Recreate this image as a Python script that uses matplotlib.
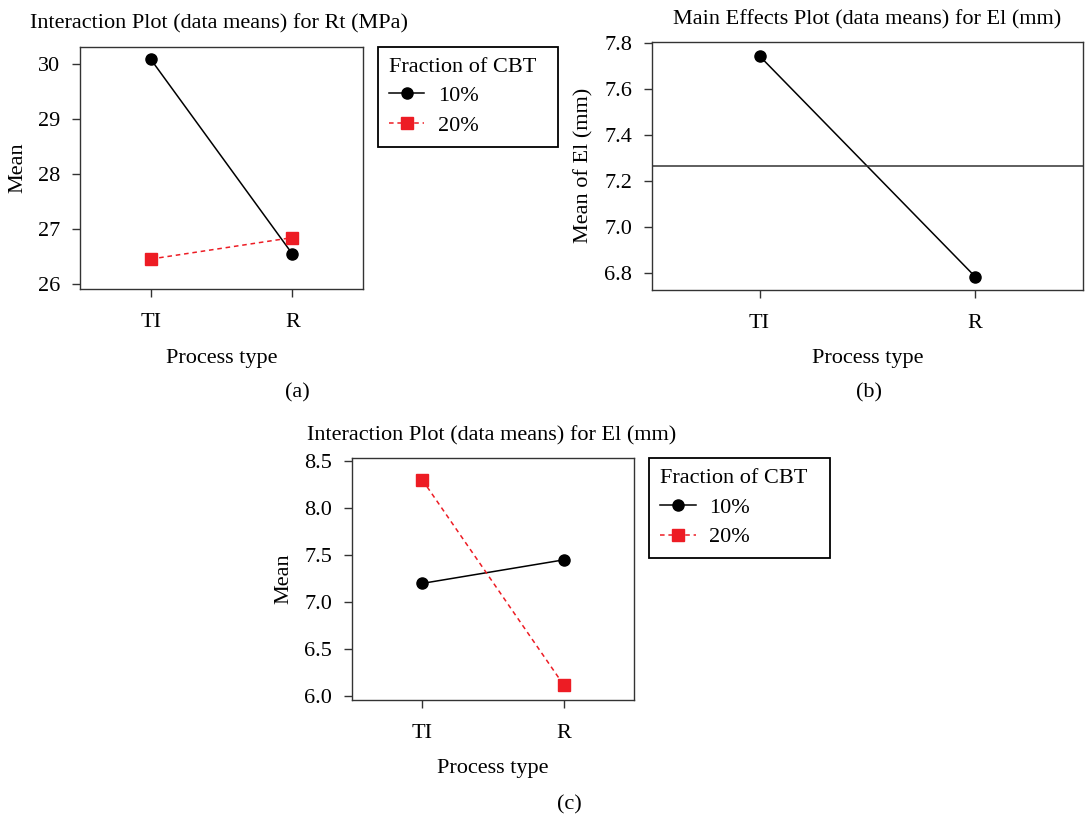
import matplotlib
matplotlib.use("Agg")
import matplotlib.pyplot as plt
import numpy as np

plt.rcParams["font.family"] = ["Liberation Serif", "DejaVu Serif"]
plt.rcParams["font.size"] = 16

# data
process_types = ["TI", "R"]
fractions = ["10%", "20%"]
rt_10 = [30.08, 26.54]
rt_20 = [26.45, 26.84]
el_main = [7.745, 6.785]
el_10 = [7.20, 7.45]
el_20 = [8.30, 6.12]

RED = "#ED1C24"
SPINE = "#333333"

W, H = 1087, 816
fig = plt.figure(figsize=(W / 100, H / 100), dpi=100)


def px_axes(left, top, right, bottom):
    # axes box given in pixel edges of the image
    return fig.add_axes([left / W, 1 - bottom / H, (right - left) / W, (bottom - top) / H])


def style_axes(ax):
    for s in ax.spines.values():
        s.set_color(SPINE)
        s.set_linewidth(1.0)
    ax.tick_params(direction="out", length=6, width=1, color=SPINE, labelsize=16)
    ax.tick_params(axis="x", pad=11)
    ax.tick_params(axis="y", pad=8)
    ax.set_xticks(np.arange(len(process_types)))
    ax.set_xticklabels(process_types)
    ax.set_xlim(-0.5, 1.5)
    ax.set_xlabel("Process type", labelpad=12)


def interaction(ax, y10, y20):
    x = np.arange(len(process_types))
    ax.plot(x, y10, color="black", lw=1.1, marker="o", ms=8, label=fractions[0])
    ax.plot(x, y20, color=RED, lw=1.1, ls=(0, (3, 2.5)), marker="s", ms=9,
            label=fractions[1])
    style_axes(ax)
    ax.set_ylabel("Mean", labelpad=8)


def add_legend(ax, left, top):
    leg = ax.legend(title="Fraction of CBT  ", loc="upper left",
                    bbox_to_anchor=(left / W, 1 - top / H), bbox_transform=fig.transFigure,
                    borderaxespad=0, fontsize=16, title_fontsize=16, alignment="left",
                    fancybox=False, framealpha=1, edgecolor="black",
                    handlelength=1.6, handletextpad=0.6, labelspacing=0.4,
                    borderpad=0.5)
    leg.get_frame().set_linewidth(1.3)


# (a) interaction plot for Rt
ax_a = px_axes(80, 46.7, 363.3, 289.3)
interaction(ax_a, rt_10, rt_20)
ax_a.set_ylim(25.90, 30.31)
ax_a.set_yticks([26, 27, 28, 29, 30])
add_legend(ax_a, 377.7, 46.7)

# (b) main effects plot for El
ax_b = px_axes(651.7, 41.7, 1083, 290)
xb = np.arange(len(process_types))
ax_b.plot(xb, el_main, color="black", lw=1.1, marker="o", ms=8)
ax_b.axhline(np.mean(el_main), color="#333333", lw=1.1)
style_axes(ax_b)
ax_b.set_ylim(6.727, 7.807)
ax_b.set_yticks(np.arange(6.8, 7.81, 0.2))
ax_b.yaxis.set_major_formatter(matplotlib.ticker.FormatStrFormatter("%.1f"))
ax_b.set_ylabel("Mean of El (mm)", labelpad=8)

# (c) interaction plot for El
ax_c = px_axes(351.7, 458.3, 634.3, 700)
interaction(ax_c, el_10, el_20)
ax_c.set_ylim(5.96, 8.53)
ax_c.set_yticks(np.arange(6.0, 8.51, 0.5))
ax_c.yaxis.set_major_formatter(matplotlib.ticker.FormatStrFormatter("%.1f"))
add_legend(ax_c, 649.3, 458.3)

# titles and panel letters
fig.text(30 / W, 1 - 28.7 / H, "Interaction Plot (data means) for Rt (MPa)",
         ha="left", va="baseline", fontsize=16)
fig.text(672.7 / W, 1 - 24 / H, "Main Effects Plot (data means) for El (mm)",
         ha="left", va="baseline", fontsize=16)
fig.text(306.7 / W, 1 - 440 / H, "Interaction Plot (data means) for El (mm)",
         ha="left", va="baseline", fontsize=16)
fig.text(297 / W, 1 - 393 / H, "(a)", ha="center", va="center", fontsize=16)
fig.text(869 / W, 1 - 393 / H, "(b)", ha="center", va="center", fontsize=16)
fig.text(569 / W, 1 - 805 / H, "(c)", ha="center", va="center", fontsize=16)

fig.savefig("out.png", dpi=100)
